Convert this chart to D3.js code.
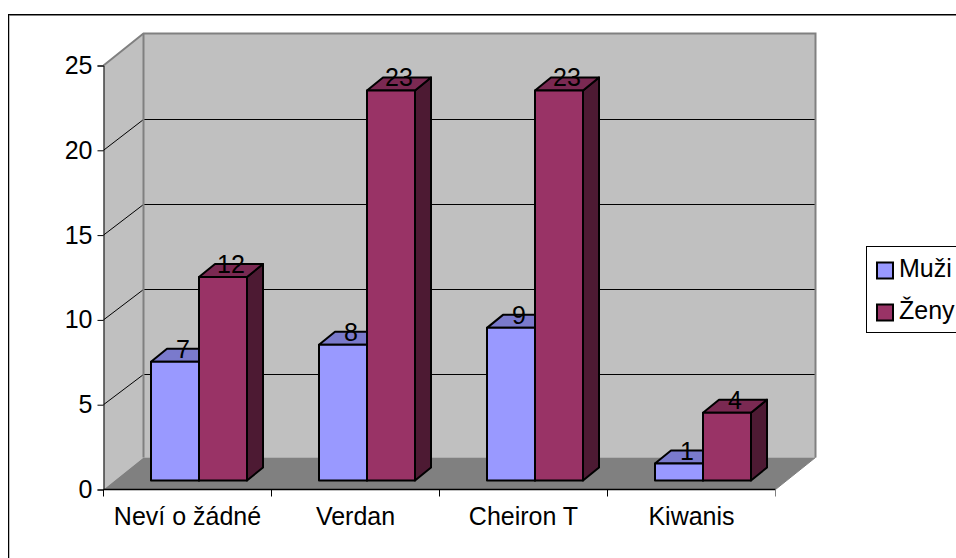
<!DOCTYPE html>
<html><head><meta charset="utf-8">
<script src="https://cdn.jsdelivr.net/npm/d3@7"></script>
<style>html,body{margin:0;padding:0;background:#fff;overflow:hidden}svg{display:block}text{font-family:"Liberation Sans",Arial,sans-serif;fill:#000}</style>
</head><body><svg id="c" width="956" height="558"></svg>
<script>
const categories = ["Neví o žádné","Verdan","Cheiron T","Kiwanis"];
const seriesNames = ["Muži","Ženy"];
const muzi = [7,8,9,1];
const zeny = [12,23,23,4];
const yTicks = [0,5,10,15,20,25];
const colors = {Muži:{f:"#9999ff",t:"#7a7acc",s:"#4d4d80"},Ženy:{f:"#993366",t:"#7a2952",s:"#4d1a33"}};
const fontSize = "25px";

const svg = d3.select("#c");
const y = d3.scaleLinear().domain([0,25]).range([489.5,65.5]);
const x = d3.scaleBand().domain(categories).range([103.5,775.5]);
const inner = d3.scaleBand().domain(seriesNames).range([0,x.bandwidth()]).paddingOuter(0.75).paddingInner(0);
const back = {dx:40,dy:-32};
const gridDy = -31;
const barFront = {dx:11.5,dy:-9};
const barDepth = {dx:16,dy:-13};
const line = d3.line();
const x0=x.range()[0], x1=x.range()[1];

// chart frame (runs past the window on the right and bottom)
svg.append("rect").attr("x",9).attr("y",15.5).attr("width",980).attr("height",600).attr("fill","none").attr("stroke","#808080").attr("stroke-width",1);
svg.append("rect").attr("x",8.5).attr("y",14.5).attr("width",980).attr("height",600).attr("fill","none").attr("stroke","#000").attr("stroke-width",1);

// walls and floor
svg.append("path").attr("d",line([[x0,y(0)],[x0+back.dx,y(0)+back.dy],[x0+back.dx,y(25)+back.dy],[x0,y(25)]])).attr("fill","#c0c0c0");
svg.append("path").attr("d",line([[x0+back.dx,y(0)+back.dy],[x1+back.dx,y(0)+back.dy],[x1+back.dx,y(25)+back.dy],[x0+back.dx,y(25)+back.dy]])+"Z").attr("fill","#c0c0c0");
svg.append("path").attr("d",line([[x0,y(0)],[x1,y(0)],[x1+back.dx,y(0)+back.dy],[x0+back.dx,y(0)+back.dy]])+"Z").attr("fill","#808080");

// gridlines
yTicks.slice(1,-1).forEach(t=>{
  const gy=Math.round(y(t)+gridDy)+0.5;
  svg.append("path").attr("d",line([[x0,y(t)],[x0+back.dx,gy],[x1+back.dx,gy]])).attr("fill","none").attr("stroke","#000").attr("stroke-width",1);
});
// wall outlines
svg.append("path").attr("d",line([[x0,y(25)],[x0+back.dx,y(25)+back.dy],[x1+back.dx,y(25)+back.dy],[x1+back.dx,y(0)+back.dy]])).attr("fill","none").attr("stroke","#808080").attr("stroke-width",2);
svg.append("path").attr("d",line([[x0+back.dx,y(25)+back.dy],[x0+back.dx,y(0)+back.dy]])).attr("fill","none").attr("stroke","#808080").attr("stroke-width",2);
svg.append("path").attr("d",line([[x1,y(0)],[x1+back.dx,y(0)+back.dy]])).attr("fill","none").attr("stroke","#808080").attr("stroke-width",1);

// axes
const yAxis = d3.axisLeft(y).tickValues(yTicks).tickSize(6).tickPadding(5);
const gyAxis = svg.append("g").attr("transform",`translate(${x0},0)`).call(yAxis);
gyAxis.selectAll("text").style("font-size",fontSize);
gyAxis.selectAll("path,line").attr("stroke","#000");
gyAxis.attr("font-family",null);
svg.append("path").attr("d",line([[x0,y(0)],[x1,y(0)]])).attr("stroke","#000").attr("stroke-width",1.5);
d3.range(5).forEach(i=>{
  const px=x0+i*x.step();
  svg.append("line").attr("x1",px).attr("x2",px).attr("y1",y(0)).attr("y2",y(0)+7).attr("stroke",i===4?"#808080":"#000");
});
categories.forEach(c=>{
  svg.append("text").attr("x",x(c)+x.bandwidth()/2).attr("y",525).attr("text-anchor","middle").style("font-size",fontSize).text(c);
});

// bars
const base = y(0)+barFront.dy;
categories.forEach((c,i)=>{
  [[seriesNames[0],muzi[i]],[seriesNames[1],zeny[i]]].forEach(([s,v])=>{
    const l=x(c)+inner(s)+barFront.dx, r=l+inner.bandwidth(), top=y(v)+barFront.dy;
    const col=colors[s], d=barDepth;
    const g=svg.append("g").attr("stroke","#000").attr("stroke-width",2).attr("stroke-linejoin","round");
    g.append("path").attr("d",line([[r,top],[r+d.dx,top+d.dy],[r+d.dx,base+d.dy],[r,base]])+"Z").attr("fill",col.s);
    g.append("path").attr("d",line([[l,top],[l+d.dx,top+d.dy],[r+d.dx,top+d.dy],[r,top]])+"Z").attr("fill",col.t);
    g.append("rect").attr("x",l).attr("y",top).attr("width",r-l).attr("height",base-top).attr("fill",col.f);
  });
});
// value labels
categories.forEach((c,i)=>{
  [[seriesNames[0],muzi[i]],[seriesNames[1],zeny[i]]].forEach(([s,v])=>{
    const l=x(c)+inner(s)+barFront.dx;
    svg.append("text").attr("x",l+inner.bandwidth()/2+8).attr("y",y(v)+barFront.dy-4).attr("text-anchor","middle").style("font-size",fontSize).text(v);
  });
});

// legend (runs past the window on the right)
svg.append("rect").attr("x",866.5).attr("y",246.5).attr("width",110).attr("height",86).attr("fill","#fff").attr("stroke","#000");
seriesNames.forEach((s,i)=>{
  const yy=262.5+i*42;
  svg.append("rect").attr("x",877).attr("y",yy).attr("width",16).attr("height",16).attr("fill",colors[s].f).attr("stroke","#000").attr("stroke-width",2);
  svg.append("text").attr("x",899).attr("y",yy+14).style("font-size",fontSize).text(s);
});
</script></body></html>
